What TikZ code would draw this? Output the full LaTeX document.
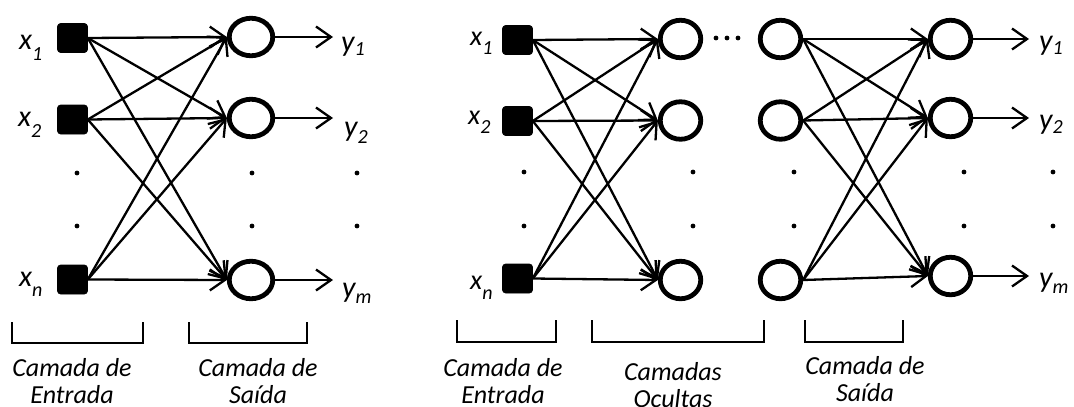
\documentclass[tikz,border=0pt]{standalone}
\usepackage{fontspec}
\setmainfont{Carlito}
\usetikzlibrary{arrows.meta,shapes.geometric}

% symbol with a lowered subscript: #1 letter, #2 index, #3 drop in pt
\newcommand\sublab[3]{\itshape #1\raisebox{-#3pt}{\fontsize{20}{20}\selectfont\itshape #2}}

\tikzset{
  inp/.style={draw, fill=black, rounded corners=3pt, minimum width=30pt,
    minimum height=29pt, inner sep=0pt, line width=0.6pt},
  neuronL/.style={draw, ellipse, line width=4.8pt, minimum width=43.5pt,
    minimum height=37.5pt, inner sep=0pt},
  neuronR/.style={neuronL, minimum width=40.5pt},
  conn/.style={line width=2.3pt, -{Straight Barb[length=15pt,width=21pt]}},
  brk/.style={line width=2.2pt},
  lay/.style={font=\fontsize{26}{27}\selectfont\itshape, align=center,
    anchor=base, inner sep=0pt},
  sym/.style={font=\fontsize{30}{30}\selectfont, anchor=base west, inner sep=0pt},
  symR/.style={sym, font=\fontsize{28}{28}\selectfont},
  dot/.style={circle, fill=black, inner sep=0pt, minimum size=4.8pt},
}

\begin{document}
\begin{tikzpicture}[x=1pt, y=-1pt]
\useasboundingbox (0,0) rectangle (1074,407);

% ---------------- single-layer network ----------------
\node[inp] (s1) at (72.5,38) {};
\node[inp] (s2) at (72.5,119.5) {};
\node[inp] (s3) at (72.5,279.5) {};

\node[neuronL] (c1) at (251,37) {};
\node[neuronL] (c2) at (251,118) {};
\node[neuronL] (c3) at (251,280) {};

\foreach \i in {1,2,3}
  \foreach \j in {1,2,3}
    \draw[conn] (s\i.east) -- (c\j.west);

\coordinate (yo1) at (333,37);
\coordinate (yo2) at (333,118);
\coordinate (yo3) at (333,280);
\foreach \j in {1,2,3}
  \draw[conn] (c\j.east) -- (yo\j);

\node[sym] (lx1) at (19,49) {\sublab{x}{1}{11}};
\node[sym] (lx2) at (18,126) {\sublab{x}{2}{11}};
\node[sym] (lxn) at (19,286) {\sublab{x}{n}{10}};
\node[sym] (ly1) at (341,51) {\sublab{y}{1}{4}};
\node[sym] (ly2) at (344,136) {\sublab{y}{2}{7}};
\node[sym] (lym) at (342,297) {\sublab{y}{m}{6}};

\foreach \x in {77,252,357}
  \foreach \y in {173,226}
    \node[dot] at (\x,\y) {};

\draw[brk] (12,322) |- (143,343) -- (143,322);
\draw[brk] (189,322) |- (307,343) -- (307,322);
\node[lay] (t1) at (72,403) {Camada de\\Entrada};
\node[lay] (t2) at (258,403) {Camada de\\Saída};

% ---------------- multilayer network ----------------
\node[inp] (r1) at (517.5,40) {};
\node[inp] (r2) at (517.5,121) {};
\node[inp] (r3) at (517.5,278.5) {};

\node[neuronR] (h1) at (680.5,39) {};
\node[neuronR] (h2) at (680.5,120.5) {};
\node[neuronR] (h3) at (680.5,280) {};

\node[neuronR] (g1) at (780.5,39) {};
\node[neuronR] (g2) at (780.5,120.5) {};
\node[neuronR] (g3) at (780.5,280) {};

\node[neuronR] (o1) at (950.5,39) {};
\node[neuronR] (o2) at (950.5,118) {};
\node[neuronR] (o3) at (950.5,276) {};

\foreach \i in {1,2,3}
  \foreach \j in {1,2,3} {
    \draw[conn] (r\i.east) -- (h\j.west);
    \draw[conn] (g\i.east) -- (o\j.west);
  }

\coordinate (zo1) at (1029,39);
\coordinate (zo2) at (1029,118);
\coordinate (zo3) at (1029,276);
\foreach \j in {1,2,3}
  \draw[conn] (o\j.east) -- (zo\j);

\node[symR] (rx1) at (470,45) {\sublab{x}{1}{9}};
\node[symR] (rx2) at (468,124) {\sublab{x}{2}{9}};
\node[symR] (rxn) at (470,289) {\sublab{x}{n}{10}};
\node[sym] (ry1) at (1039,50) {\sublab{y}{1}{4}};
\node[sym] (ry2) at (1039,129) {\sublab{y}{2}{4}};
\node[sym] (rym) at (1039,287) {\sublab{y}{m}{6}};

\foreach \x in {716,727,738}
  \node[dot] at (\x,38) {};
\foreach \x in {524,693,794,964,1053}
  \foreach \y in {172,226}
    \node[dot] at (\x,\y) {};

\draw[brk] (457,320) |- (556,342) -- (556,320);
\draw[brk] (592,320) |- (764,342) -- (764,320);
\draw[brk] (805,320) |- (903,342) -- (903,320);
\node[lay] (t3) at (503,403) {Camada de\\Entrada};
\node[lay] (t4) at (673,407) {Camadas\\Ocultas};
\node[lay] (t5) at (865,401) {Camada de\\Saída};
\end{tikzpicture}
\end{document}
